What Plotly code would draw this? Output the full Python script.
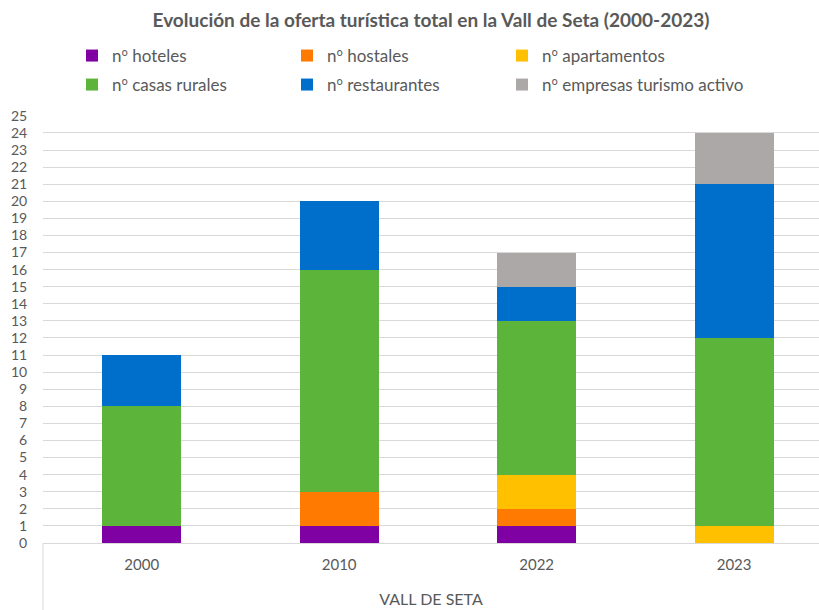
import plotly.graph_objects as go

categories = ["2000", "2010", "2022", "2023"]
hoteles = [1, 1, 1, 0]
hostales = [0, 2, 1, 0]
apartamentos = [0, 0, 2, 1]
casas_rurales = [7, 13, 9, 11]
restaurantes = [3, 4, 2, 9]
empresas_turismo = [0, 0, 2, 3]

ORD = '<span style="font-family:Open Sans">º</span>'
series = [
    ("n" + ORD + " hoteles", hoteles, "#7F00A3"),
    ("n" + ORD + " hostales", hostales, "#FF7A00"),
    ("n" + ORD + " apartamentos", apartamentos, "#FFC000"),
    ("n" + ORD + " casas rurales", casas_rurales, "#5CB43A"),
    ("n" + ORD + " restaurantes", restaurantes, "#006ECB"),
    ("n" + ORD + " empresas turismo activo", empresas_turismo, "#ACA8A8"),
]
y_ticks = list(range(0, 26))

FONT = "Lato"
GRAY = "#595959"

legend_ids = ["legend", "legend2", "legend3", "legend4", "legend5", "legend6"]
legend_x = [72, 287, 502]
legend_y = [56, 85]

fig = go.Figure()
for i, (name, vals, col) in enumerate(series):
    fig.add_trace(go.Bar(
        x=categories, y=vals, name=name,
        marker=dict(color=col, line=dict(width=0)),
        width=0.4, legend=legend_ids[i],
    ))

legends = {}
for i, lid in enumerate(legend_ids):
    legends[lid] = dict(
        orientation="h", xref="container", yref="container",
        x=legend_x[i % 3] / 819, y=1 - legend_y[i // 3] / 610,
        xanchor="left", yanchor="middle",
        font=dict(family=FONT, size=17, color=GRAY),
        bgcolor="rgba(0,0,0,0)",
    )

fig.update_layout(
    barmode="stack",
    width=819, height=610,
    paper_bgcolor="white", plot_bgcolor="white",
    margin=dict(l=43, r=0, t=115, b=67, autoexpand=False),
    font=dict(family=FONT, color=GRAY, size=14),
    title=dict(
        text="<b>Evolución de la oferta turística total en la Vall de Seta (2000-2023)</b>",
        x=0.5, xref="paper", y=1 - 20 / 610, yanchor="middle",
        font=dict(family=FONT, size=19, color=GRAY),
    ),
    xaxis=dict(
        range=[-0.5, 3.43],
        showgrid=False,
        showline=True, linecolor="#D9D9D9", linewidth=1,
        ticks="outside", ticklen=8, tickcolor="rgba(0,0,0,0)",
        tickfont=dict(family=FONT, size=15, color=GRAY),
        title=dict(text="VALL DE SETA", standoff=21,
                   font=dict(family=FONT, size=16, color=GRAY)),
        automargin=False,
        fixedrange=True,
    ),
    yaxis=dict(
        range=[0, 25.05],
        tickvals=y_ticks,
        showgrid=True, gridcolor="#D9D9D9", gridwidth=1,
        zeroline=False, showline=False,
        ticks="outside", ticklen=12, tickcolor="rgba(0,0,0,0)",
        tickfont=dict(family=FONT, size=14, color=GRAY),
        automargin=False,
        fixedrange=True,
    ),
    shapes=[dict(type="line", xref="paper", yref="paper",
                 x0=0, x1=0, y0=0, y1=-0.2,
                 line=dict(color="#D9D9D9", width=1))],
    showlegend=True,
    **legends,
)

fig.write_html(
    "out.html",
    config={"displayModeBar": False},
    post_script="document.body.style.margin='0';document.body.style.overflow='hidden';",
)
